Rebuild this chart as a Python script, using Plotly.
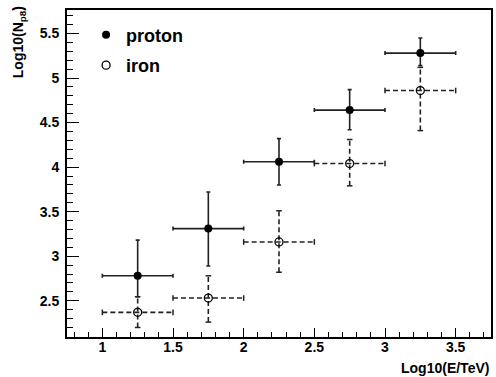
import plotly.graph_objects as go

# ---- data ----
energy = [1.25, 1.75, 2.25, 2.75, 3.25]
energy_err = [0.25, 0.25, 0.25, 0.25, 0.25]

proton_y = [2.78, 3.31, 4.06, 4.64, 5.28]
proton_up = [0.40, 0.41, 0.26, 0.23, 0.17]
proton_dn = [0.235, 0.42, 0.26, 0.22, 0.14]

iron_y = [2.37, 2.53, 3.16, 4.04, 4.86]
iron_up = [0.175, 0.25, 0.35, 0.27, 0.26]
iron_dn = [0.17, 0.27, 0.34, 0.25, 0.45]

x_ticks = [1, 1.5, 2, 2.5, 3, 3.5]
y_ticks = [2.5, 3, 3.5, 4, 4.5, 5, 5.5]

FONT = "Liberation Sans, Arial, sans-serif"
INK = "#222"

fig = go.Figure()

# proton: solid error bars
fig.add_trace(go.Scatter(
    x=energy, y=proton_y, mode="markers", name="proton", legendgroup="p",
    marker=dict(symbol="circle", size=8, color="black"),
    error_x=dict(type="data", array=energy_err, color=INK, thickness=1.6, width=2),
    error_y=dict(type="data", array=proton_up, arrayminus=proton_dn, symmetric=False,
                 color=INK, thickness=1.6, width=2),
))

# iron: dashed error bars built from the data
hx, hy, vx, vy = [], [], [], []
cap_h_x, cap_h_y, cap_v_x, cap_v_y = [], [], [], []
for xi, xe, yi, yu, yd in zip(energy, energy_err, iron_y, iron_up, iron_dn):
    hx += [xi - xe, xi + xe, None]
    hy += [yi, yi, None]
    vx += [xi, xi, None]
    vy += [yi - yd, yi + yu, None]
    cap_h_x += [xi - xe, xi + xe]
    cap_h_y += [yi, yi]
    cap_v_x += [xi, xi]
    cap_v_y += [yi - yd, yi + yu]

dash_line = dict(color=INK, width=1.6, dash="5px,3px")
fig.add_trace(go.Scatter(x=hx, y=hy, mode="lines", line=dash_line, showlegend=False, hoverinfo="skip"))
fig.add_trace(go.Scatter(x=vx, y=vy, mode="lines", line=dash_line, showlegend=False, hoverinfo="skip"))
fig.add_trace(go.Scatter(x=cap_h_x, y=cap_h_y, mode="markers", showlegend=False, hoverinfo="skip",
                         marker=dict(symbol="line-ns-open", size=4, color=INK, line=dict(color=INK, width=1.5))))
fig.add_trace(go.Scatter(x=cap_v_x, y=cap_v_y, mode="markers", showlegend=False, hoverinfo="skip",
                         marker=dict(symbol="line-ew-open", size=4, color=INK, line=dict(color=INK, width=1.5))))
fig.add_trace(go.Scatter(
    x=energy, y=iron_y, mode="markers", name="iron", legendgroup="i",
    marker=dict(symbol="circle-open", size=8, color="black", line=dict(width=1.3, color="black")),
))

axis_common = dict(
    showgrid=False, zeroline=False,
    showline=True, linecolor="black", linewidth=2, mirror=True,
    ticks="inside", tickcolor="black", tickwidth=1,
    tickfont=dict(family=FONT, size=14, color="black", weight="bold"),
)

fig.update_xaxes(range=[0.75, 3.75], tickvals=x_ticks, ticktext=[f"{v:g}" for v in x_ticks],
                 ticklen=9, ticklabelstandoff=-4,
                 minor=dict(dtick=0.1, tick0=0, ticks="inside", ticklen=5, tickcolor="black"),
                 **axis_common)
fig.update_yaxes(range=[2.093, 5.764], tickvals=y_ticks, ticktext=[f"{v:g}" for v in y_ticks],
                 ticklen=12, ticklabelstandoff=3,
                 minor=dict(dtick=0.1, tick0=0, ticks="inside", ticklen=6, tickcolor="black"),
                 **axis_common)

fig.add_annotation(text="<b>Log10(E/TeV)</b>", xref="paper", yref="paper",
                   x=1.0, y=-0.064, xanchor="right", yanchor="top", showarrow=False,
                   font=dict(family=FONT, size=14, color="black"))
fig.add_annotation(text="<b>Log10(N<sub>p8</sub>)</b>", xref="paper", yref="paper",
                   x=-0.113, y=1.018, xanchor="center", yanchor="top", textangle=-90, showarrow=False,
                   font=dict(family=FONT, size=14, color="black"))

fig.update_layout(
    width=496, height=377,
    margin=dict(l=67, r=3, t=10, b=40),
    paper_bgcolor="white", plot_bgcolor="white",
    showlegend=True,
    legend=dict(x=0.045, y=0.98, xanchor="left", yanchor="top", bgcolor="rgba(0,0,0,0)",
                font=dict(family=FONT, size=18, color="black", weight="bold"),
                itemwidth=30, tracegroupgap=4, traceorder="grouped"),
)

fig.write_html("out.html")
